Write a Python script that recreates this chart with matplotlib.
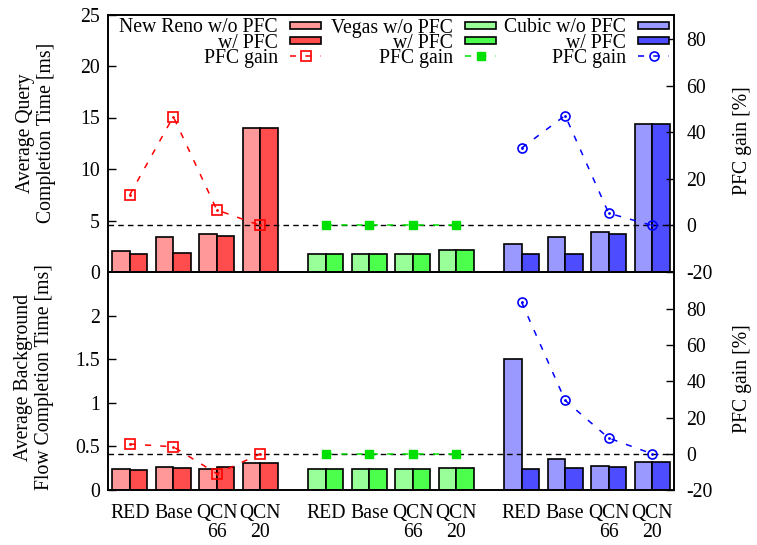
import matplotlib
matplotlib.use("Agg")
import matplotlib.pyplot as plt
import numpy as np
from matplotlib.patches import Rectangle
from matplotlib.lines import Line2D

plt.rcParams['font.family'] = ['Liberation Serif', 'DejaVu Serif']
plt.rcParams['axes.unicode_minus'] = False
FS = 14.2

# ---------------- data ----------------
protocols = ["New Reno", "Vegas", "Cubic"]
schemes = ["RED", "Base", "QCN\n66", "QCN\n20"]

# Average query completion time [ms]
query_wo = {"New Reno": [2.0, 3.4, 3.72, 13.95],
            "Vegas":    [1.75, 1.75, 1.75, 2.1],
            "Cubic":    [2.7, 3.43, 3.85, 14.37]}
query_w = {"New Reno": [1.72, 1.8, 3.5, 13.95],
           "Vegas":    [1.75, 1.75, 1.75, 2.1],
           "Cubic":    [1.78, 1.78, 3.66, 14.37]}
query_gain = {"New Reno": [13.2, 46.8, 6.7, 0.0],
              "Vegas":    [0.0, 0.0, 0.0, 0.0],
              "Cubic":    [33.3, 47.3, 5.3, 0.0]}

# Average background flow completion time [ms]
bg_wo = {"New Reno": [0.245, 0.26, 0.238, 0.31],
         "Vegas":    [0.238, 0.238, 0.238, 0.256],
         "Cubic":    [1.506, 0.36, 0.28, 0.318]}
bg_w = {"New Reno": [0.23, 0.25, 0.268, 0.31],
        "Vegas":    [0.238, 0.238, 0.238, 0.256],
        "Cubic":    [0.238, 0.25, 0.26, 0.318]}
bg_gain = {"New Reno": [5.4, 3.9, -11.0, 0.0],
           "Vegas":    [0.0, 0.0, 0.0, 0.0],
           "Cubic":    [83.8, 29.5, 8.7, 0.0]}

# ---------------- styles ----------------
light = {"New Reno": "#ff9999", "Vegas": "#99ff99", "Cubic": "#9999ff"}
dark = {"New Reno": "#ff4d4d", "Vegas": "#4dff4d", "Cubic": "#4d4dff"}
lcol = {"New Reno": "#ff0000", "Vegas": "#00e000", "Cubic": "#0000ff"}
group_start = {"New Reno": 0.0, "Vegas": 4.5, "Cubic": 9.0}
BW = 0.4
DASH = (0, (4, 6))

fig = plt.figure(figsize=(7.57, 5.45), dpi=100)
W, H = 757, 545


def ax_rect(x0, y0, x1, y1):
    return [x0 / W, (H - y1) / H, (x1 - x0) / W, (y1 - y0) / H]


ax_top = fig.add_axes(ax_rect(108, 14.5, 674, 272))
ax_bot = fig.add_axes(ax_rect(108, 272, 674, 490))


def draw_gain(ax2, prot, xs, gains):
    c = lcol[prot]
    ax2.plot(xs, gains, color=c, lw=1.1, linestyle=DASH, zorder=3)
    if prot == "New Reno":
        ax2.plot(xs, gains, linestyle='none', marker='s', ms=6.5, mfc='none',
                 mec=c, mew=1.2, zorder=4)
        ax2.plot(xs, gains, linestyle='none', marker='.', ms=2, color=c, zorder=4)
    elif prot == "Vegas":
        ax2.plot(xs, gains, linestyle='none', marker='s', ms=5.5, color=c,
                 mec=c, zorder=4)
    else:
        ax2.plot(xs, gains, linestyle='none', marker='o', ms=6.5, mfc='none',
                 mec=c, mew=1.2, zorder=4)
        ax2.plot(xs, gains, linestyle='none', marker='.', ms=2, color=c, zorder=4)


def draw_panel(ax, wo, w, gain, ylim, yticks, ytl, y2lim):
    ax2 = ax.twinx()
    centers_all = []
    for prot in protocols:
        pos = group_start[prot] + np.arange(len(schemes))
        centers_all.extend(pos)
        ax.bar(pos - BW / 2, wo[prot], width=BW, color=light[prot],
               edgecolor='black', linewidth=1.2, zorder=2)
        ax.bar(pos + BW / 2, w[prot], width=BW, color=dark[prot],
               edgecolor='black', linewidth=1.2, zorder=2)
        draw_gain(ax2, prot, pos, gain[prot])
    ax2.axhline(0, color='black', lw=1.0, linestyle=(0, (4, 3)), zorder=1)
    ax.set_xlim(-0.5, 12.5)
    ax.set_ylim(*ylim)
    ax.set_yticks(yticks)
    ax.set_yticklabels(ytl)
    ax2.set_ylim(*y2lim)
    ax2.set_yticks([-20, 0, 20, 40, 60, 80])
    ax2.set_yticklabels(["-20", "0", "20", "40", "60", "80"])
    ax.tick_params(axis='y', direction='in', length=6, width=1, pad=6,
                   labelsize=FS, right=False)
    ax2.tick_params(axis='y', direction='in', length=6, width=1, pad=9,
                    labelsize=FS)
    for a in (ax, ax2):
        for s in a.spines.values():
            s.set_linewidth(1.2)
    ax.set_zorder(ax2.get_zorder() - 1)
    ax.patch.set_visible(True)
    ax2.patch.set_visible(False)
    return ax2, centers_all


ax2_top, centers = draw_panel(ax_top, query_wo, query_w, query_gain,
                              (0, 25), [0, 5, 10, 15, 20, 25],
                              ["0", "5", "10", "15", "20", "25"], (-20, 90.75))
ax2_bot, _ = draw_panel(ax_bot, bg_wo, bg_w, bg_gain,
                        (0, 2.505), [0, 0.5, 1, 1.5, 2],
                        ["0", "0.5", "1", "1.5", "2"], (-20, 100.5))

ax_top.set_xticks([])
ax_bot.set_xticks(centers)
ax_bot.set_xticklabels(schemes * 3, fontsize=FS, linespacing=1.0)
ax_bot.tick_params(axis='x', length=0, pad=10)

# y labels
fig.text(36 / W, 1 - 133 / H, "Average Query\nCompletion Time [ms]", rotation=90,
         ha='center', va='center', fontsize=FS, multialignment='center',
         linespacing=1.1)
fig.text(34 / W, 1 - 377 / H, "Average Background\nFlow Completion Time [ms]",
         rotation=90, ha='center', va='center', fontsize=FS,
         multialignment='center', linespacing=1.1)
fig.text(743 / W, 1 - 141 / H, "PFC gain [%]", rotation=90, ha='center',
         va='center', fontsize=FS)
fig.text(743 / W, 1 - 379 / H, "PFC gain [%]", rotation=90, ha='center',
         va='center', fontsize=FS)

# ---------------- legend (gnuplot style, manual) ----------------
leg_sample_x = {"New Reno": 290, "Vegas": 465, "Cubic": 638}
rows_y = [25.5, 40.5, 55.5]
names = {"New Reno": "New Reno w/o PFC", "Vegas": "Vegas w/o PFC",
         "Cubic": "Cubic w/o PFC"}
for prot in protocols:
    sx = leg_sample_x[prot]
    labels = [names[prot], "w/ PFC", "PFC gain"]
    for i, lab in enumerate(labels):
        y = rows_y[i]
        fig.text((sx - 12) / W, 1 - y / H, lab, ha='right', va='center_baseline',
                 fontsize=FS)
    for i, col in enumerate([light[prot], dark[prot]]):
        y = rows_y[i]
        fig.add_artist(Rectangle((sx / W, 1 - (y + 3.5) / H), 31 / W, 7 / H,
                                 facecolor=col, edgecolor='black', lw=1.2,
                                 transform=fig.transFigure))
    y = rows_y[2]
    c = lcol[prot]
    fig.add_artist(Line2D([sx / W, (sx + 31) / W], [1 - y / H, 1 - y / H],
                          color=c, lw=1.1, linestyle=DASH,
                          transform=fig.transFigure))
    mx = (sx + 16) / W
    if prot == "New Reno":
        fig.add_artist(Line2D([mx], [1 - y / H], marker='s', ms=6.5, mfc='none',
                              mec=c, mew=1.2, transform=fig.transFigure))
    elif prot == "Vegas":
        fig.add_artist(Line2D([mx], [1 - y / H], marker='s', ms=5.5, color=c,
                              transform=fig.transFigure))
    else:
        fig.add_artist(Line2D([mx], [1 - y / H], marker='o', ms=6.5, mfc='none',
                              mec=c, mew=1.2, transform=fig.transFigure))

fig.savefig("out.png", dpi=100)
